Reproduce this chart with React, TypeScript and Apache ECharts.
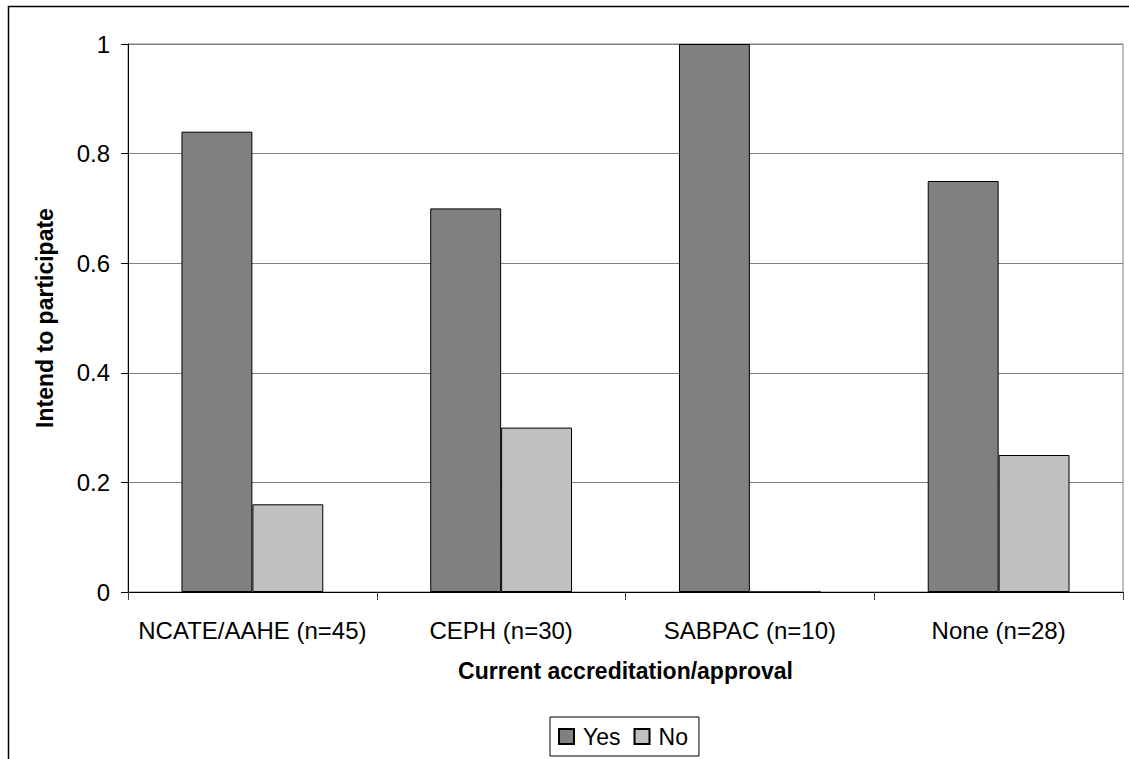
import React, { useEffect, useRef } from "react";
import * as echarts from "echarts";

const categories = ["NCATE/AAHE (n=45)", "CEPH (n=30)", "SABPAC (n=10)", "None (n=28)"];
const yesValues = [0.84, 0.7, 1.0, 0.75];
const noValues = [0.16, 0.3, 0, 0.25];
const seriesNames = ["Yes", "No"];
const xAxisTitle = "Current accreditation/approval";
const yAxisTitle = "Intend to participate";

const FONT = "'Liberation Sans', Arial, sans-serif";

export default function App() {
  const ref = useRef<HTMLDivElement>(null);
  useEffect(() => {
    if (!ref.current) return;
    const chart = echarts.init(ref.current, undefined, { renderer: "svg" });
    chart.setOption({
      animation: false,
      backgroundColor: "#ffffff",
      textStyle: { fontFamily: FONT, color: "#000" },
      graphic: [
        {
          type: "rect",
          shape: { x: 8.5, y: 6.5, width: 1300, height: 1000 },
          style: { fill: "none", stroke: "#000", lineWidth: 1.5 },
          silent: true,
          z: -10,
        },
      ],
      grid: {
        left: 128,
        right: 6,
        top: 44,
        bottom: 167,
        show: true,
        borderColor: "#808080",
        borderWidth: 1,
        backgroundColor: "transparent",
      },
      legend: {
        data: seriesNames,
        left: 550,
        top: 717,
        orient: "horizontal",
        itemWidth: 15,
        itemHeight: 15,
        itemGap: 13,
        padding: [8, 11, 8, 8],
        borderColor: "#000",
        borderWidth: 1,
        textStyle: { fontFamily: FONT, fontSize: 23, color: "#000", padding: [0, 0, 0, 4] },
        icon: "rect",
      },
      xAxis: {
        type: "category",
        data: categories,
        name: xAxisTitle,
        nameLocation: "middle",
        nameGap: 67,
        nameTextStyle: { fontFamily: FONT, fontSize: 23, fontWeight: "bold", color: "#000" },
        axisLine: { show: true, lineStyle: { color: "#000", width: 1 } },
        axisTick: { show: true, length: 8, alignWithLabel: false, lineStyle: { color: "#404040" } },
        axisLabel: { fontFamily: FONT, fontSize: 24, color: "#000", margin: 26, interval: 0 },
        splitLine: { show: false },
      },
      yAxis: {
        type: "value",
        min: 0,
        max: 1,
        interval: 0.2,
        name: yAxisTitle,
        nameLocation: "middle",
        nameGap: 72,
        nameTextStyle: { fontFamily: FONT, fontSize: 23, fontWeight: "bold", color: "#000" },
        axisLine: { show: true, lineStyle: { color: "#000", width: 1 } },
        axisTick: { show: true, length: 7, lineStyle: { color: "#000" } },
        axisLabel: { fontFamily: FONT, fontSize: 24, color: "#000", margin: 18 },
        splitLine: { show: true, lineStyle: { color: "#808080", width: 1 } },
      },
      series: [
        {
          name: seriesNames[0],
          type: "bar",
          data: yesValues,
          barGap: "0%",
          barCategoryGap: "43%",
          itemStyle: { color: "#808080", borderColor: "#000", borderWidth: 1 },
        },
        {
          name: seriesNames[1],
          type: "bar",
          data: noValues,
          barGap: "0%",
          barCategoryGap: "43%",
          itemStyle: { color: "#c0c0c0", borderColor: "#000", borderWidth: 1 },
        },
      ],
    });
    return () => chart.dispose();
  }, []);
  return (
    <div
      ref={ref}
      style={{ position: "fixed", left: 0, top: 0, width: 1129, height: 759 }}
    />
  );
}
